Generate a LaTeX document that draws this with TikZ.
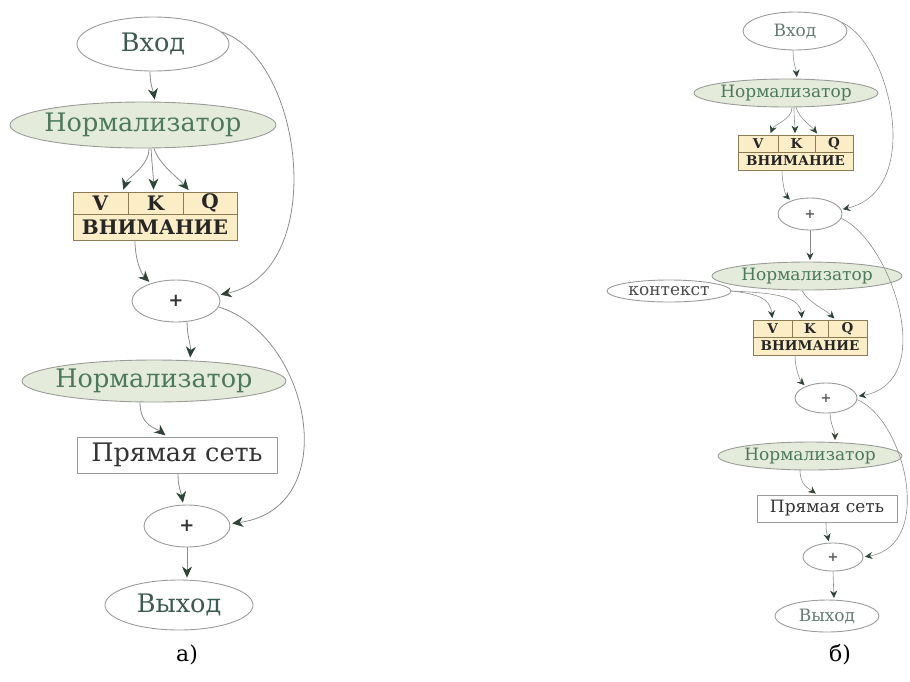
\documentclass[tikz,border=0pt]{standalone}
\usepackage{fontspec}
\setmainfont{DejaVu Serif}
\usetikzlibrary{shapes.geometric,arrows.meta,calc}

\definecolor{normfill}{HTML}{E5EBDA}
\definecolor{normtext}{HTML}{4B7A5B}
\definecolor{nodetext}{HTML}{3C5A50}
\definecolor{attfill}{HTML}{FBEDC6}
\definecolor{attline}{HTML}{8C7B55}
\definecolor{edgeline}{HTML}{8A8E8A}
\definecolor{ovalline}{HTML}{9A9C9A}
\definecolor{tipcol}{HTML}{2C4537}

\tikzset{
  fbig/.style={font=\fontsize{25.5}{29}\selectfont},
  fsmall/.style={font=\fontsize{17}{20}\selectfont},
  fplusL/.style={font=\fontsize{18}{20}\selectfont\bfseries, text=black!80},
  fplusR/.style={font=\fontsize{13}{15}\selectfont\bfseries, text=black!65},
  oval/.style={ellipse, draw=ovalline, line width=0.9pt, fill=white, inner sep=0pt},
  norm/.style={oval, fill=normfill},
  cell/.style={rectangle, draw=attline, line width=0.8pt, fill=attfill, inner sep=0pt, text=black!85},
  cellL/.style={cell, font=\fontsize{20}{22}\selectfont\bfseries},
  cellR/.style={cell, font=\fontsize{13.5}{15}\selectfont\bfseries},
  ffbox/.style={rectangle, draw=ovalline, line width=0.9pt, fill=white, inner sep=0pt, text=black!80},
  edgeL/.style={draw=edgeline, line width=0.8pt, shorten >=2pt,
    -{Stealth[length=11pt,width=10pt,inset=3.5pt,color=tipcol]}},
  edgeR/.style={draw=edgeline, line width=0.6pt, shorten >=1.5pt,
    -{Stealth[length=7.5pt,width=7pt,inset=2.5pt,color=tipcol]}},
  caption/.style={font=\fontsize{22}{26}\selectfont, text=black}
}

\begin{document}
\begin{tikzpicture}[x=1pt, y=-1pt]
\useasboundingbox (0,0) rectangle (910,681);

% ---------------- left: encoder block ----------------
\node[oval, minimum width=152pt, minimum height=54pt,
  label={[fbig, text=nodetext]center:Вход}] (inL) at (153,44) {};
\node[norm, minimum width=266pt, minimum height=46pt,
  label={[fbig, text=normtext]center:Нормализатор}] (n1L) at (143,125) {};

\node[cellL, minimum width=55pt, minimum height=22pt] (vL) at (100.5,203) {V};
\node[cellL, minimum width=55pt, minimum height=22pt] (kL) at (155.5,203) {K};
\node[cellL, minimum width=54pt, minimum height=22pt] (qL) at (210,203) {Q};
\node[cellL, minimum width=164pt, minimum height=26pt] (attL) at (155,227) {ВНИМАНИЕ};

\node[oval, minimum width=88pt, minimum height=42pt,
  label={[fplusL]center:+}] (p1L) at (176,301) {};
\node[norm, minimum width=264pt, minimum height=42pt,
  label={[fbig, text=normtext]center:Нормализатор}] (n2L) at (154,381) {};
\node[ffbox, minimum width=200pt, minimum height=36pt, fbig] (ffL) at (177,455) {Прямая сеть};
\node[oval, minimum width=86pt, minimum height=42pt,
  label={[fplusL]center:+}] (p2L) at (187,526) {};
\node[oval, minimum width=148pt, minimum height=50pt,
  label={[fbig, text=nodetext]center:Выход}] (outL) at (179,605) {};
\node[caption] (capL) at (187,655) {а)};

\draw[edgeL] ($(inL.south)+(-3,0)$) .. controls +(0,14) and +(-2,-12) .. ($(n1L.north)+(12,0)$);
\draw[edgeL] ($(n1L.south)+(6,0)$) .. controls +(0,18) and +(5,-14) .. ($(vL.north)+(22,0)$);
\draw[edgeL] ($(n1L.south)+(8,0)$) .. controls +(1,16) and +(0,-14) .. ($(kL.north)+(-2,0)$);
\draw[edgeL] ($(n1L.south)+(11,0)$) .. controls +(5,16) and +(-12,-14) .. ($(qL.north)+(-20,0)$);
\draw[edgeL] ($(attL.south)+(-20,0)$) .. controls +(0,22) and +(-8,-8) .. (p1L.145);
\draw[edgeL] (inL.10) .. controls (305,60) and (328,272) .. (p1L.8);
\draw[edgeL] (p1L.-62) .. controls +(0,14) and +(1,-14) .. ($(n2L.north)+(36,0)$);
\draw[edgeL] (p1L.-8) .. controls (310,335) and (345,508) .. (p2L.3);
\draw[edgeL] ($(n2L.south)+(-14,0)$) .. controls +(0,24) and +(-10,-8) .. ($(ffL.north)+(-10,0)$);
\draw[edgeL] ($(ffL.south)+(1,0)$) .. controls +(0,14) and +(-2,-12) .. (p2L.100);
\draw[edgeL] (p2L.south) -- ($(outL.north)+(8,0)$);

% ---------------- right: decoder block ----------------
\node[oval, minimum width=104pt, minimum height=38pt,
  label={[fsmall, text=nodetext!80]center:Вход}] (inR) at (795,31) {};
\node[norm, minimum width=184pt, minimum height=28pt,
  label={[fsmall, text=normtext]center:Нормализатор}] (n1R) at (786,93) {};

\node[cellR, minimum width=40pt, minimum height=17pt] (vR1) at (758,143.5) {V};
\node[cellR, minimum width=37pt, minimum height=17pt] (kR1) at (796.5,143.5) {K};
\node[cellR, minimum width=38pt, minimum height=17pt] (qR1) at (834,143.5) {Q};
\node[cellR, minimum width=115pt, minimum height=18pt] (attR1) at (795.5,161) {ВНИМАНИЕ};

\node[oval, minimum width=64pt, minimum height=32pt,
  label={[fplusR]center:+}] (p1R) at (810,214) {};
\node[norm, minimum width=190pt, minimum height=28pt,
  label={[fsmall, text=normtext]center:Нормализатор}] (n2R) at (807,276) {};
\node[oval, minimum width=124pt, minimum height=22pt,
  label={[font=\fontsize{17}{19}\selectfont, text=black!70]center:контекст}] (ctx) at (669,291) {};

\node[cellR, minimum width=39pt, minimum height=17pt] (vR2) at (772.5,328.5) {V};
\node[cellR, minimum width=36pt, minimum height=17pt] (kR2) at (810,328.5) {K};
\node[cellR, minimum width=39pt, minimum height=17pt] (qR2) at (847.5,328.5) {Q};
\node[cellR, minimum width=114pt, minimum height=18pt] (attR2) at (810,346) {ВНИМАНИЕ};

\node[oval, minimum width=62pt, minimum height=30pt,
  label={[fplusR]center:+}] (p3R) at (826,398) {};
\node[norm, minimum width=184pt, minimum height=28pt,
  label={[fsmall, text=normtext]center:Нормализатор}] (n3R) at (810,456) {};
\node[ffbox, minimum width=140pt, minimum height=27pt, fsmall] (ffR) at (827,508.5) {Прямая сеть};
\node[oval, minimum width=60pt, minimum height=28pt,
  label={[fplusR]center:+}] (p4R) at (833,557) {};
\node[oval, minimum width=104pt, minimum height=32pt,
  label={[fsmall, text=nodetext!80]center:Выход}] (outR) at (827,616) {};
\node[caption] (capR) at (840,655) {б)};

\draw[edgeR] ($(inR.south)+(-2,0)$) .. controls +(0,12) and +(-1,-10) .. ($(n1R.north)+(11,0)$);
\draw[edgeR] ($(n1R.south)+(6,0)$) .. controls +(0,12) and +(4,-10) .. ($(vR1.north)+(12,0)$);
\draw[edgeR] ($(n1R.south)+(8,0)$) .. controls +(0,12) and +(0,-10) .. ($(kR1.north)+(-1.5,0)$);
\draw[edgeR] ($(n1R.south)+(10,0)$) .. controls +(4,12) and +(-8,-10) .. ($(qR1.north)+(-16,0)$);
\draw[edgeR] ($(attR1.south)+(-13.5,0)$) .. controls +(0,14) and +(-5,-5) .. (p1R.145);
\draw[edgeR] (inR.10) .. controls (890,45) and (925,190) .. (p1R.8);
\draw[edgeR] (p1R.south) -- ($(n2R.north)+(3,0)$);
\draw[edgeR] (p1R.-8) .. controls (890,240) and (940,382) .. (p3R.3);
\draw[edgeR] ($(n2R.south)+(-5,0)$) .. controls +(6,12) and +(-10,-10) .. ($(qR2.north)+(-12,0)$);
\draw[edgeR] (ctx.east) .. controls (758,294) and (770,298) .. (vR2.north);
\draw[edgeR] (ctx.east) .. controls (775,293) and (800,296) .. ($(kR2.north)+(-8,0)$);
\draw[edgeR] ($(attR2.south)+(-15,0)$) .. controls +(0,14) and +(-5,-5) .. (p3R.150);
\draw[edgeR] (p3R.-75) .. controls +(0,10) and +(0,-10) .. ($(n3R.north)+(25,0)$);
\draw[edgeR] (p3R.-3) .. controls (905,420) and (935,545) .. (p4R.0);
\draw[edgeR] ($(n3R.south)+(-10,0)$) .. controls +(0,15) and +(-8,-6) .. ($(ffR.north)+(-10,0)$);
\draw[edgeR] ($(ffR.south)+(-1,0)$) .. controls +(0,10) and +(-2,-8) .. (p4R.105);
\draw[edgeR] (p4R.south) -- ($(outR.north)+(7,0)$);
\end{tikzpicture}
\end{document}
